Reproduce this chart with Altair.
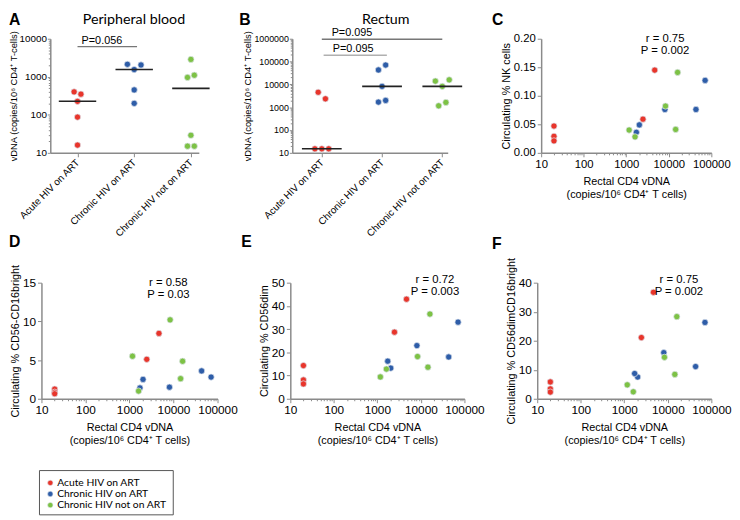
import json
import altair as alt
import pandas as pd

# ---------------- data ----------------
groups = ["Acute HIV on ART", "Chronic HIV on ART", "Chronic HIV not on ART"]
colors = ["#e8352b", "#2e5da8", "#7dc245"]

# Panel A - peripheral blood vDNA (copies/10^6 CD4+ T cells)
pb_group = [0, 0, 0, 0, 0, 1, 1, 1, 1, 1, 2, 2, 2, 2, 2, 2]
pb_vdna = [401, 349, 226, 87, 16, 2130, 2045, 1550, 452, 200, 2860, 960, 1100, 29, 15, 15]
pb_jitter = [-0.06, 0.06, 0, 0, 0, -0.12, 0.12, 0, 0, 0, 0, -0.06, 0.06, 0, -0.06, 0.06]
pb_brk_from = [0.0]
pb_brk_to = [1.05]
pb_brk_y = [6200]
pb_brk_label = ["P=0.056"]
pb_brk_lx = [0.43]

# Panel B - rectum vDNA
rc_group = [0, 0, 0, 0, 0, 1, 1, 1, 1, 1, 2, 2, 2, 2, 2]
rc_vdna = [4520, 2330, 15, 15, 15, 42800, 70500, 8200, 1675, 1980, 13900, 15800, 8200, 1150, 1620]
rc_jitter = [-0.06, 0.06, -0.115, 0, 0.115, -0.06, 0.06, 0, -0.06, 0.06, -0.115, 0.115, 0, -0.06, 0.06]
rc_brk_from = [0.0, 0.03]
rc_brk_to = [2.0, 1.08]
rc_brk_y = [950000, 190000]
rc_brk_label = ["P=0.095", "P=0.095"]
rc_brk_lx = [0.5, 0.52]

# Panels C-F - rectal vDNA vs circulating NK subsets
sc_group = [0, 0, 0, 0, 0, 1, 1, 1, 1, 1, 2, 2, 2, 2, 2]
sc_rectal = [20, 20, 20, 4670, 2470, 2030, 1730, 8090, 43500, 71400, 1170, 1610, 8370, 16100, 14500]
nk_pct = [0.047, 0.029, 0.021, 0.145, 0.059, 0.049, 0.036, 0.076, 0.076, 0.127, 0.040, 0.028, 0.082, 0.141, 0.041]
cd56neg_pct = [1.25, 0.85, 0.65, 8.45, 5.1, 2.5, 1.4, 1.5, 3.6, 2.8, 5.5, 1.0, 10.2, 4.85, 2.6]
cd56dim_pct = [14.3, 8.1, 6.4, 42.9, 28.7, 13.2, 16.2, 22.9, 18.0, 33.0, 9.4, 12.8, 18.2, 36.5, 13.6]
cd56dim16_pct = [5.8, 3.4, 2.3, 36.7, 21.1, 7.5, 8.7, 15.9, 11.1, 26.3, 4.8, 2.4, 14.3, 28.3, 8.4]

stats_r = ["r = 0.75", "r = 0.58", "r = 0.72", "r = 0.75"]
stats_p = ["P = 0.002", "P = 0.03", "P = 0.003", "P = 0.002"]

# ---------------- helpers ----------------
FONT = "Liberation Sans"
AX = "#8a8a8a"
color_scale = alt.Scale(domain=groups, range=colors)
one = pd.DataFrame({"k": [0]})


def log_values(lo, hi):
    vals = []
    for e in range(lo, hi):
        for m in range(1, 10):
            vals.append(m * 10 ** e)
    vals.append(10 ** hi)
    return vals


def log_axis(lo, hi, title, label_size, title_size, title_padding=2, major=4, **kw):
    majors = [10 ** e for e in range(lo, hi + 1)]
    test = f"indexof({json.dumps(majors)}, datum.value) >= 0"
    return alt.Axis(
        values=log_values(lo, hi),
        labelExpr=f"{test} ? format(datum.value, 'd') : ''",
        tickSize={"condition": {"test": test, "value": major}, "value": 2},
        labelFontSize=label_size,
        titleFontSize=title_size,
        titlePadding=title_padding,
        title=title,
        **kw,
    )


def text_mark(text, x, y, size=16, weight="bold", font=FONT, align="left",
              baseline="alphabetic", color="black", line_height=13):
    return alt.Chart(one).mark_text(
        text=text, fontSize=size, fontWeight=weight, font=font, align=align,
        baseline=baseline, color=color, lineHeight=line_height
    ).encode(x=alt.value(x), y=alt.value(y))


def category_panel(grp, vals, jit, bfrom, bto, by, blabel, blx, xdom, ylo, yhi,
                   ylabel_size, letter, letter_x, title, title_x, width, height):
    df = pd.DataFrame({
        "gid": grp,
        "vdna": vals,
        "jit": jit,
        "group": [groups[g] for g in grp],
    })
    xsc = alt.Scale(domain=xdom, nice=False, zero=False)
    ysc = alt.Scale(type="log", domain=[10 ** ylo, 10 ** yhi], nice=False)
    xaxis = alt.Axis(
        values=[0, 1, 2],
        labelExpr=f"{json.dumps(groups)}[datum.value]",
        labelAngle=-45, labelAlign="right", labelBaseline="middle",
        labelFontSize=10, tickSize=4, title=None, labelPadding=4,
    )
    yaxis = log_axis(ylo, yhi, "vDNA (copies/10\u2076 CD4\u207a T-cells)", ylabel_size, 9.5, 1,
                     major=3, labelPadding=1)
    pts = alt.Chart(df).transform_calculate(xpos="datum.gid + datum.jit").mark_circle(
        size=40, opacity=1, stroke="#dfe5ee", strokeWidth=0.7
    ).encode(
        x=alt.X("xpos:Q", scale=xsc, axis=xaxis),
        y=alt.Y("vdna:Q", scale=ysc, axis=yaxis),
        color=alt.Color("group:N", scale=color_scale, legend=None),
    )
    med = alt.Chart(df).transform_aggregate(
        med="median(vdna)", groupby=["gid"]
    ).transform_calculate(
        xa="datum.gid - 0.33", xb="datum.gid + 0.33"
    ).mark_rule(color="#222222", strokeWidth=1.6).encode(
        x=alt.X("xa:Q", scale=xsc), x2="xb:Q", y=alt.Y("med:Q", scale=ysc)
    )
    bdf = pd.DataFrame({"x1": bfrom, "x2": bto, "y": by, "label": blabel,
                        "lx": blx, "idx": list(range(len(bfrom)))})
    brule = alt.Chart(bdf).mark_rule(strokeWidth=1.5).encode(
        x=alt.X("x1:Q", scale=xsc), x2="x2:Q", y=alt.Y("y:Q", scale=ysc),
        color=alt.condition("datum.idx == 0", alt.value("#777777"), alt.value("#b0b0b0")),
    )
    btext = alt.Chart(bdf).mark_text(
        font=FONT, fontSize=11, baseline="alphabetic", dy=-3, color="black"
    ).encode(x=alt.X("lx:Q", scale=xsc), y=alt.Y("y:Q", scale=ysc), text="label:N")
    layers = [pts, med, brule, btext,
              text_mark(letter, letter_x, -14),
              text_mark(title, title_x, -15, size=14.5, weight="normal", font="Lato", align="center")]
    return alt.layer(*layers).properties(width=width, height=height)


def scatter_panel(yvals, ytitle, ymax, yticks, yfmt, letter, letter_x, letter_y,
                  idx, ann_x, ann_y, label_size, width, height, extra=()):
    df = pd.DataFrame({
        "rect": sc_rectal,
        "val": yvals,
        "group": [groups[g] for g in sc_group],
    })
    xaxis = log_axis(1, 5, ["Rectal CD4 vDNA", "(copies/10\u2076 CD4\u207a T cells)"],
                     label_size, 11, 6)
    yaxis = alt.Axis(values=yticks, format=yfmt, title=ytitle, titleFontSize=11,
                     labelFontSize=label_size, tickSize=4, titlePadding=2)
    pts = alt.Chart(df).mark_circle(
        size=40, opacity=1, stroke="#dfe5ee", strokeWidth=0.7
    ).encode(
        x=alt.X("rect:Q", scale=alt.Scale(type="log", domain=[10, 100000], nice=False), axis=xaxis),
        y=alt.Y("val:Q", scale=alt.Scale(domain=[0, ymax], nice=False), axis=yaxis),
        color=alt.Color("group:N", scale=color_scale, legend=None),
    )
    ann = text_mark([stats_r[idx], stats_p[idx]], ann_x, ann_y, size=11.5, weight="normal",
                    align="center", baseline="top", line_height=13)
    return alt.layer(pts, ann, text_mark(letter, letter_x, letter_y), *extra).properties(
        width=width, height=height)


# legend box drawn inside panel D (pixel offsets relative to D's plot area)
legend_layers = [
    alt.Chart(one).mark_rect(fill="#ffffff", stroke="#555555", strokeWidth=1).encode(
        x=alt.value(-2), x2=alt.value(134), y=alt.value(191), y2=alt.value(236))
]
for i, g in enumerate(groups):
    legend_layers.append(
        alt.Chart(one).mark_circle(size=30, opacity=1, color=colors[i],
                                   stroke="#dfe5ee", strokeWidth=0.6).encode(
            x=alt.value(9), y=alt.value(203.5 + 11.3 * i)))
    legend_layers.append(
        text_mark(g, 16, 203.5 + 11.3 * i, size=10.5, weight="normal", font="Lato",
                  baseline="middle"))

# ---------------- panels ----------------
A = category_panel(pb_group, pb_vdna, pb_jitter, pb_brk_from, pb_brk_to, pb_brk_y,
                   pb_brk_label, pb_brk_lx, [-0.48, 2.14], 1, 4, 10,
                   "A", -42, "Peripheral blood", 85, 151, 116)
B = category_panel(rc_group, rc_vdna, rc_jitter, rc_brk_from, rc_brk_to, rc_brk_y,
                   rc_brk_label, rc_brk_lx, [-0.49, 2.09], 1, 6, 9,
                   "B", -54, "Rectum", 95, 158, 116)
C = scatter_panel(nk_pct, "Circulating % NK cells", 0.20, [0, 0.05, 0.10, 0.15, 0.20], ".2f",
                  "C", -50, -14, 0, 126, -6, 11.5, 173, 116)
D = scatter_panel(cd56neg_pct, "Circulating % CD56-CD16bright", 15, [0, 5, 10, 15], "d",
                  "D", -33, -36, 1, 129, -6, 12, 179, 118, extra=legend_layers)
E = scatter_panel(cd56dim_pct, "Circulating % CD56dim", 50, [0, 10, 20, 30, 40, 50], "d",
                  "E", -50, -36, 2, 147, -9, 12, 177, 118)
F = scatter_panel(cd56dim16_pct, "Circulating % CD56dimCD16bright", 40, [0, 10, 20, 30, 40], "d",
                  "F", -46, -34, 3, 144, -9, 12, 177, 118)

spacer = alt.Chart(one).mark_point(opacity=0).encode(
    x=alt.value(0), y=alt.value(0)).properties(width=1, height=116)

row1 = alt.hconcat(
    spacer,
    alt.hconcat(A, B, C, spacing=95, bounds="flush").resolve_scale(x="independent", y="independent"),
    spacing=8, bounds="flush",
).resolve_scale(x="independent", y="independent")
row2 = alt.hconcat(D, E, F, spacing=74, bounds="flush").resolve_scale(
    x="independent", y="independent")

chart = alt.vconcat(row1, row2, spacing=-5).resolve_scale(
    x="independent", y="independent"
).properties(
    padding=0
).configure_view(stroke=None).configure_axis(
    domainColor=AX, domainWidth=1.5, tickColor=AX, tickWidth=1,
    labelFont=FONT, titleFont=FONT, labelColor="black", titleColor="black",
    titleFontWeight="normal", grid=False, labelFlush=False, labelOverlap=False,
    labelPadding=2,
)

chart.save("out.html", embed_options={"renderer": "svg", "actions": False})
